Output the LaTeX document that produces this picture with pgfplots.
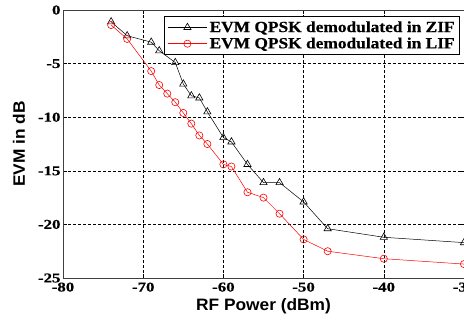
\documentclass[border=0pt]{standalone}
\usepackage{fontspec}
\setmainfont{Liberation Serif}
\newfontfamily\tickfont{Liberation Serif}[FakeStretch=1.25, BoldFeatures={FakeBold=0.5}]
\newfontfamily\legfont{Liberation Serif}[FakeStretch=1.12, BoldFeatures={FakeBold=0.5}]
\newfontfamily\labelfont{Liberation Sans}[FakeStretch=1.05]
\usepackage{pgfplots}
\pgfplotsset{compat=1.18}
\begin{document}
\begin{tikzpicture}
\begin{axis}[
  name=ax,
  scale only axis,
  width=401pt, height=268pt,
  xmin=-80, xmax=-30, ymin=-25, ymax=0,
  xtick={-80,-70,-60,-50,-40,-30},
  ytick={-25,-20,-15,-10,-5,0},
  /pgf/number format/assume math mode=true,
  ticklabel style={font=\tickfont\fontsize{13.5}{14}\selectfont\bfseries},
  xticklabel style={yshift=-1pt},
  yticklabel style={xshift=1pt},
  grid=major,
  major grid style={black, densely dashed, line width=0.6pt},
  axis line style={black!75, line width=1pt},
  tick style={black, line width=0.6pt},
  tick align=inside,
  major tick length=4pt,
  xlabel={\labelfont\bfseries RF Power (dBm)},
  ylabel={\labelfont\bfseries EVM in dB},
  label style={font=\fontsize{16.5}{18}\selectfont},
  xlabel style={yshift=0pt},
  ylabel style={yshift=6pt},
  legend style={at={(0.99,0.978)}, anchor=north east, draw=black, line width=0.8pt,
    fill=white, font=\legfont\fontsize{15.5}{17}\selectfont\bfseries, inner sep=3pt,
    row sep=0pt, cells={anchor=west}},
  legend cell align=left,
  legend image code/.code={
    \draw[mark repeat=2,mark phase=2,#1] plot coordinates {(0cm,0cm) (0.7cm,0cm) (1.4cm,0cm)};
  },
]
\addplot[black, line width=0.5pt, mark=triangle, mark size=4.2pt, mark options={solid, line width=0.6pt}] coordinates {
(-74,-1.1) (-72,-2.4) (-69,-3.0) (-68,-3.8) (-66,-4.9) (-65,-6.9) (-64,-8.0) (-63,-8.2) (-62,-9.5) (-60,-11.9) (-59,-12.3) (-57,-14.4) (-55,-16.1) (-53,-16.1) (-50,-17.9) (-47,-20.4) (-40,-21.2) (-30,-21.7)
};
\addlegendentry{EVM QPSK demodulated in ZIF}
\addplot[red, line width=0.5pt, mark=o, mark size=3.6pt, mark options={solid, line width=0.6pt}] coordinates {
(-74,-1.4) (-72,-2.7) (-69,-5.7) (-68,-7.0) (-67,-7.8) (-66,-8.6) (-65,-9.6) (-64,-10.6) (-63,-11.7) (-62,-12.5) (-60,-14.4) (-59,-14.6) (-57,-17.0) (-55,-17.5) (-53,-19.0) (-50,-21.4) (-47,-22.5) (-40,-23.2) (-30,-23.7)
};
\addlegendentry{EVM QPSK demodulated in LIF}
\end{axis}
\pgfresetboundingbox
\path (ax.south west) ++(-63pt,-41pt) coordinate (bl);
\path (ax.north east) ++(0pt,10pt) coordinate (tr);
\path[use as bounding box] (bl) rectangle (tr);
\end{tikzpicture}
\end{document}
